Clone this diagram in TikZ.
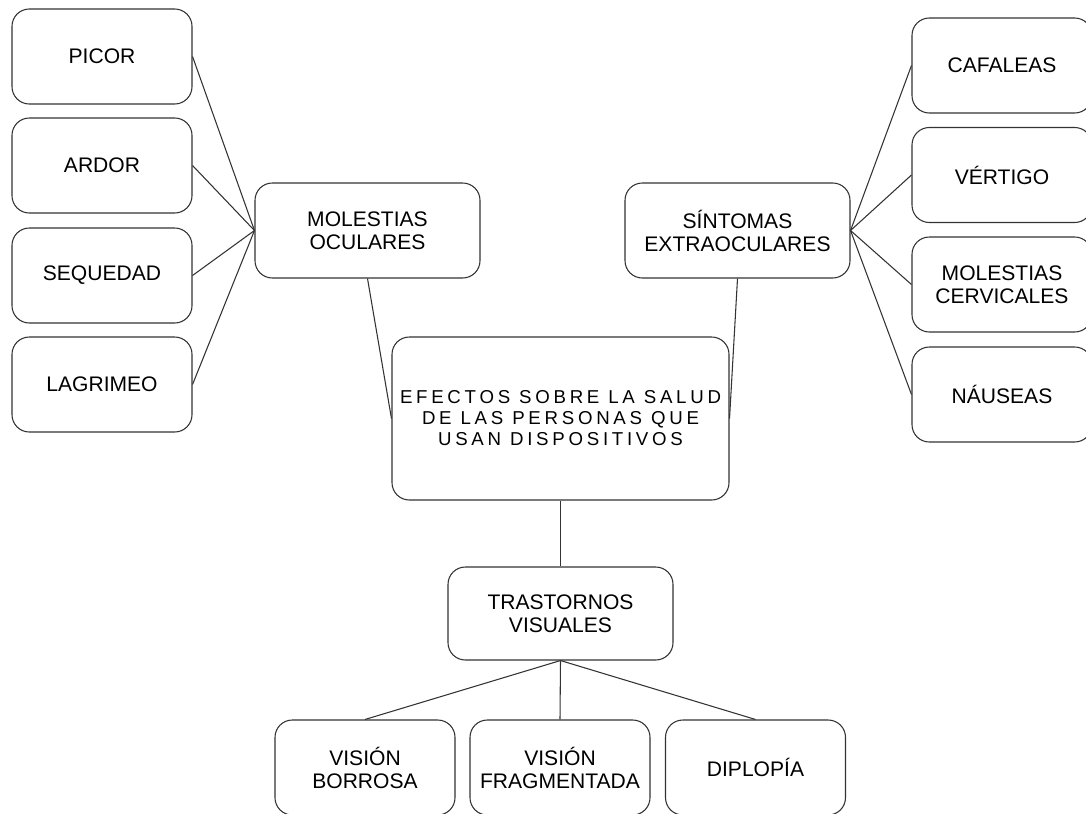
\documentclass[tikz,border=0pt]{standalone}
\usepackage{fontspec}
\setmainfont{Liberation Sans}
\newfontfamily\spacedfont[LetterSpace=20]{Liberation Sans}
\usepackage{tikz}
\usetikzlibrary{positioning}

\begin{document}
\begin{tikzpicture}[x=0.75pt, y=-0.75pt,
  box/.style={draw=black!80, line width=0.8pt, rounded corners=13pt, align=center,
    inner sep=0pt, minimum width=135pt, minimum height=71.25pt,
    font=\fontsize{15.8}{17.25}\selectfont},
  link/.style={draw=black!80, line width=0.8pt}]
\useasboundingbox (0,0) rectangle (1086,814);

% Centre
\node[box, minimum width=252.75pt, minimum height=122.25pt,
  font=\spacedfont\fontsize{14}{15.75}\selectfont] (C) at (560.5,418.5)
  {EFECTOS SOBRE LA SALUD\\DE LAS PERSONAS QUE\\USAN DISPOSITIVOS};

% Groups
\node[box, minimum width=168.75pt] (MO) at (367.5,230.5) {MOLESTIAS\\OCULARES};
\node[box, minimum width=168.75pt] (SI) at (737.5,230.5) {SÍNTOMAS\\EXTRAOCULARES};
\node[box, minimum width=168.75pt, minimum height=69.75pt] (TV) at (560.5,613.5) {TRASTORNOS\\VISUALES};

% Left column
\foreach \i/\y/\txt in {0/56.5/PICOR, 1/165.5/ARDOR, 2/275.5/SEQUEDAD, 3/384.5/LAGRIMEO}{
  \node[box] (L\i) at (102,\y) {\txt};
  \draw[link] (L\i.east) -- (MO.west);
}

% Right column
\foreach \i/\y/\txt in {0/65.5/CAFALEAS, 1/175/VÉRTIGO, 2/284.5/{MOLESTIAS\\CERVICALES}, 3/394.5/NÁUSEAS}{
  \node[box] (R\i) at (1002,\y) {\txt};
  \draw[link] (SI.east) -- (R\i.west);
}

% Bottom row
\foreach \i/\x/\txt in {0/365/{VISIÓN\\BORROSA}, 1/560/{VISIÓN\\FRAGMENTADA}, 2/755.5/DIPLOPÍA}{
  \node[box] (V\i) at (\x,767.5) {\txt};
  \draw[link] (TV.south) -- (V\i.north);
}

% Links to centre
\draw[link] (MO.south) -- (C.west);
\draw[link] (SI.south) -- (C.east);
\draw[link] (C.south) -- (TV.north);
\end{tikzpicture}
\end{document}
